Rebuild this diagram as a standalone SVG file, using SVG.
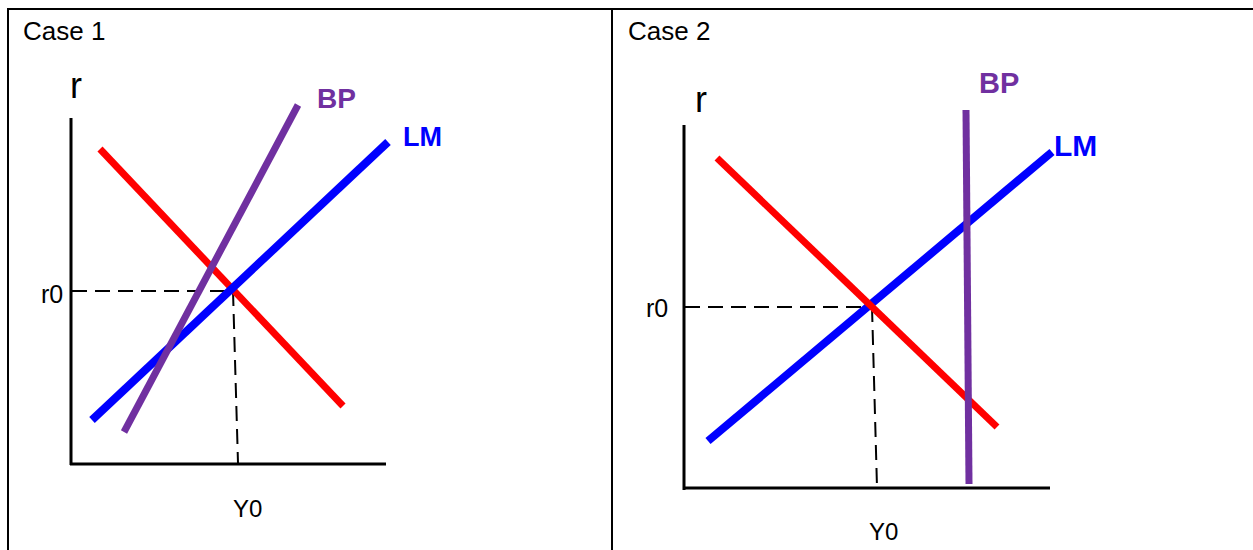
<svg xmlns="http://www.w3.org/2000/svg" width="1253" height="550" viewBox="0 0 1253 550">
<style>
.t{font-family:"Liberation Sans",Arial,sans-serif;fill:#000}
.b{font-family:"Liberation Sans",Arial,sans-serif;font-weight:bold}
.ax{stroke:#000;stroke-width:3;fill:none}
.dash{stroke:#000;stroke-width:2;stroke-dasharray:15,8;fill:none}
.red{stroke:#ff0000;stroke-width:7}
.blue{stroke:#0000ff;stroke-width:8}
.purple{stroke:#7030a0;stroke-width:7}
.frame{stroke:#000;stroke-width:2;fill:none}
</style>
<rect width="1253" height="550" fill="#fff"/>
<g id="table">
<line class="frame" x1="8" y1="9" x2="1253" y2="9"/>
<line class="frame" x1="8" y1="8" x2="8" y2="550"/>
<line class="frame" x1="612" y1="8" x2="612" y2="550"/>
</g>
<g id="case1">
<text class="t" x="23" y="40" font-size="26">Case 1</text>
<text class="t" x="70" y="98" font-size="36">r</text>
<line class="ax" x1="71" y1="118" x2="71" y2="465"/>
<line class="ax" x1="70" y1="464" x2="386" y2="464"/>
<text class="t" x="41" y="303" font-size="25">r0</text>
<text class="t" x="233" y="517" font-size="24">Y0</text>
<line class="dash" x1="72" y1="291" x2="233" y2="291"/>
<line class="dash" x1="233" y1="291" x2="238" y2="463"/>
<line class="red" x1="100" y1="149" x2="343" y2="406"/>
<line class="blue" x1="92" y1="420" x2="388" y2="142"/>
<line class="purple" x1="124" y1="432" x2="298" y2="105"/>
<text class="b" x="317" y="108" font-size="28" fill="#7030a0">BP</text>
<text class="b" x="403" y="146" font-size="27" fill="#0000ff">LM</text>
</g>
<g id="case2">
<text class="t" x="628" y="40" font-size="26">Case 2</text>
<text class="t" x="695" y="112" font-size="36">r</text>
<line class="ax" x1="684" y1="125" x2="684" y2="490"/>
<line class="ax" x1="683" y1="488" x2="1050" y2="488"/>
<text class="t" x="646" y="317" font-size="25">r0</text>
<text class="t" x="869" y="540" font-size="24">Y0</text>
<line class="dash" x1="685" y1="307" x2="872" y2="307"/>
<line class="dash" x1="872" y1="307" x2="877" y2="487"/>
<line class="blue" x1="708" y1="441" x2="1052" y2="152"/>
<line class="red" x1="717" y1="158" x2="997" y2="427"/>
<line class="purple" x1="966" y1="110" x2="969" y2="484"/>
<text class="b" x="979" y="93" font-size="29" fill="#7030a0">BP</text>
<text class="b" x="1054" y="156" font-size="30" fill="#0000ff">LM</text>
</g>
</svg>
